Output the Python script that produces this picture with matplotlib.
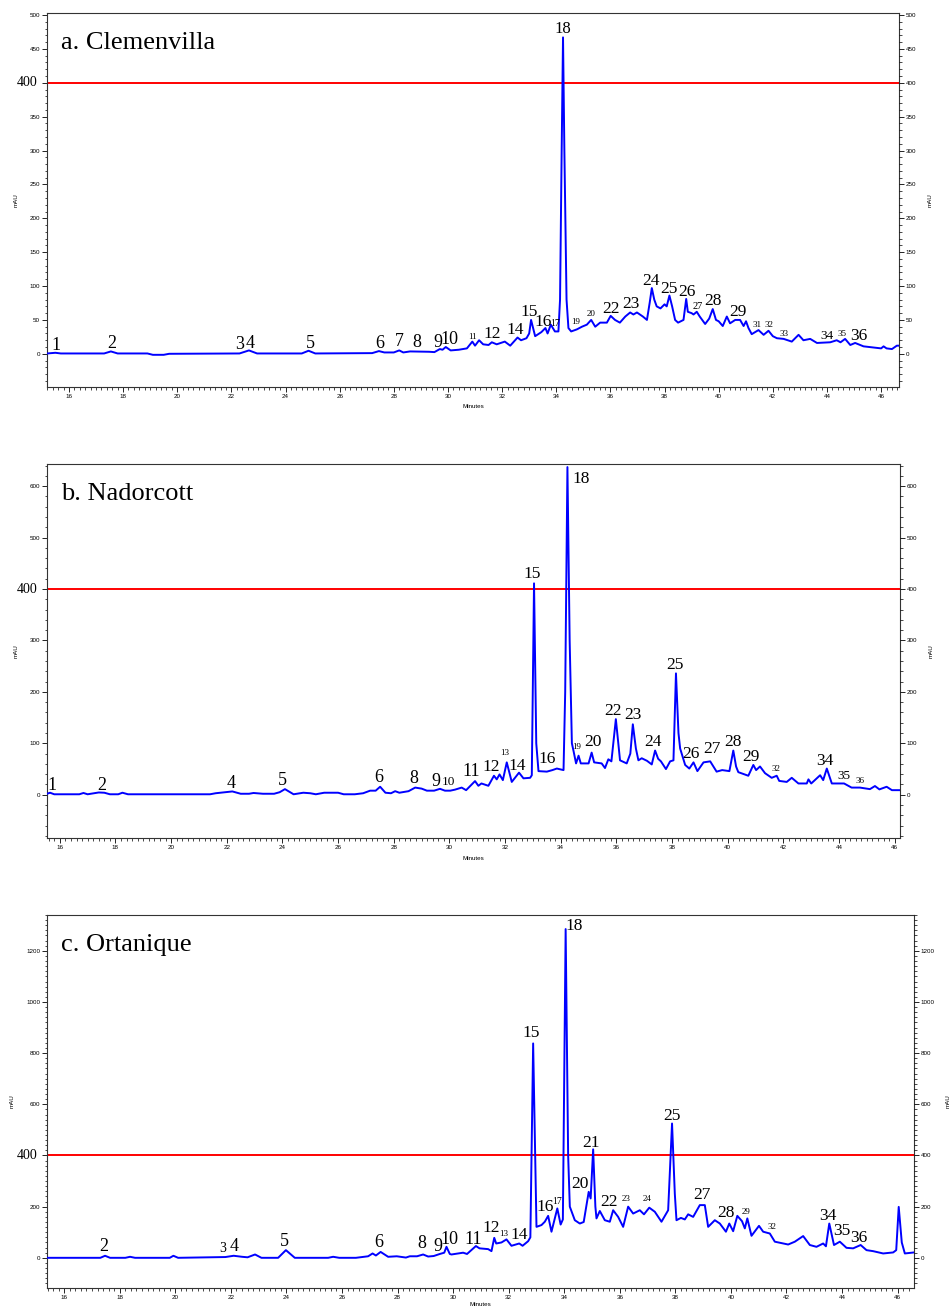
import numpy as np
import matplotlib
matplotlib.use("Agg")
import matplotlib.pyplot as plt
from matplotlib.ticker import MultipleLocator
import matplotlib.transforms as mtransforms

SERIF = "Liberation Serif"
SANS = "Liberation Sans"

# a. Clemenvilla
a_t = [15.2, 15.5, 15.7, 17.3, 17.55, 17.8, 18.9, 19.1, 19.5, 19.7, 22.3, 22.65, 22.95,
       24.6, 24.85, 25.1, 27.2, 27.45, 27.65, 28.0, 28.2, 28.35, 28.6, 29.3, 29.5, 29.7,
       29.8, 29.92, 30.1, 30.4, 30.7, 30.9, 31.0, 31.15, 31.3, 31.5, 31.62, 31.8, 32.1,
       32.3, 32.57, 32.7, 32.9, 33.0, 33.07, 33.22, 33.45, 33.6, 33.68, 33.8, 33.95, 34.08,
       34.14, 34.2, 34.25, 34.3, 34.38, 34.45, 34.55, 34.76, 34.95, 35.13, 35.29, 35.44,
       35.62, 35.87, 36.01, 36.17, 36.35, 36.55, 36.73, 36.85, 36.98, 37.2, 37.35, 37.45,
       37.53, 37.62, 37.71, 37.85, 38.0, 38.08, 38.18, 38.28, 38.39, 38.5, 38.7, 38.8,
       38.86, 39.0, 39.07, 39.19, 39.3, 39.5, 39.65, 39.78, 39.9, 40.0, 40.15, 40.3, 40.42,
       40.61, 40.79, 40.92, 41.01, 41.1, 41.22, 41.47, 41.66, 41.84, 42.0, 42.15, 42.4,
       42.7, 42.95, 43.13, 43.38, 43.63, 44.12, 44.36, 44.5, 44.67, 44.86, 45.04, 45.35,
       46.0, 46.09, 46.2, 46.4, 46.58, 46.65]
a_v = [0.5, 1.5, 0.5, 0.5, 3.5, 0.5, 0.5, -1.5, -1.5, 0, 0.5, 5, 0.5,
       0.5, 4.5, 0.5, 1, 4, 2, 2, 5, 2, 3.5, 3, 2.5, 7,
       6, 10, 5, 6, 8, 18, 12, 20, 14, 13, 17, 14, 18,
       12, 24, 20, 23, 30, 50, 26, 32, 38, 30, 43, 33, 33,
       80, 300, 467, 300, 80, 38, 33, 36, 40, 43, 50, 40,
       46, 46, 56, 50, 46, 55, 61, 58, 61, 55, 50, 75,
       97, 80, 70, 67, 73, 70, 86, 70, 50, 46, 50, 81,
       62, 60, 58, 62, 55, 44, 52, 66, 50, 48, 41, 55, 45,
       50, 50, 41, 48, 38, 29, 35, 28, 34, 26, 23, 22,
       18, 28, 20, 22, 16, 17, 20, 17, 22, 13, 16, 11,
       8, 11, 8, 7, 12, 12]
a_labels = [("1", 15.52, 12, 13), ("2", 17.58, 15.8, 13), ("3", 22.29, 14.3, 13),
            ("4", 22.69, 15.8, 13), ("5", 24.9, 15.8, 13), ("6", 27.49, 15.8, 13),
            ("7", 28.19, 18, 13), ("8", 28.84, 16.7, 13), ("9", 29.62, 16.7, 13),
            ("10", 30.04, 21.6, 13), ("11", 30.91, 24.6, 6.5), ("12", 31.64, 29, 12.5),
            ("14", 32.5, 34.4, 12.5), ("15", 33.0, 62, 12.5), ("16", 33.5, 46.5, 12.5),
            ("17", 33.97, 45, 7), ("18", 34.24, 479, 12), ("19", 34.73, 46.7, 6.5),
            ("20", 35.27, 59, 6.5), ("22", 36.01, 66, 12.5), ("23", 36.75, 73.7, 12.5),
            ("24", 37.49, 107.7, 12.5), ("25", 38.18, 96, 12.5), ("26", 38.82, 91.4, 12.5),
            ("27", 39.24, 70, 7.5), ("28", 39.8, 78, 12.5), ("29", 40.7, 61, 12.5),
            ("31", 41.4, 42.8, 6.5), ("32", 41.86, 41.8, 6.5), ("33", 42.41, 29.5, 6.5),
            ("34", 43.99, 25.6, 9.5), ("35", 44.57, 29.5, 6.5), ("36", 45.16, 26.5, 12.5)]

# b. Nadorcott
b_t = [15.54, 15.65, 15.8, 16.7, 16.85, 17.0, 17.4, 17.6, 17.8, 18.1, 18.25, 18.45, 21.4,
       21.6, 22.2, 22.5, 22.8, 22.96, 23.3, 23.7, 23.9, 24.09, 24.4, 24.75, 25.0, 25.2,
       25.5, 26.0, 26.2, 26.6, 26.9, 27.15, 27.35, 27.51, 27.7, 27.9, 28.05, 28.2, 28.53,
       28.77, 29.0, 29.19, 29.45, 29.66, 29.84, 30.03, 30.2, 30.44, 30.6, 30.92, 31.04,
       31.15, 31.4, 31.6, 31.7, 31.8, 31.92, 32.06, 32.24, 32.5, 32.66, 32.9, 32.96, 33.04,
       33.12, 33.2, 33.5, 33.7, 33.86, 34.1, 34.16, 34.24, 34.32, 34.4, 34.46, 34.55, 34.64,
       34.72, 35.0, 35.11, 35.2, 35.47, 35.59, 35.71, 35.82, 35.98, 36.13, 36.37, 36.5,
       36.59, 36.7, 36.79, 36.91, 37.1, 37.27, 37.39, 37.5, 37.6, 37.78, 37.93, 38.05,
       38.14, 38.23, 38.29, 38.47, 38.62, 38.77, 38.91, 39.13, 39.37, 39.6, 39.8, 40.06,
       40.2, 40.3, 40.38, 40.74, 40.92, 41.02, 41.16, 41.34, 41.58, 41.76, 41.85, 42.12,
       42.3, 42.54, 42.84, 42.9, 43.0, 43.32, 43.43, 43.56, 43.74, 43.98, 44.18, 44.45,
       44.75, 45.11, 45.29, 45.45, 45.71, 45.9, 46.2]
b_v = [2, 4, 1, 1, 3.5, 1, 4.5, 4, 1, 1, 4, 1, 1,
       3, 6.5, 2, 2, 3.5, 2, 2, 5, 11, 1, 4, 3, 1,
       4, 4, 1, 1, 3, 8, 8, 15.6, 4, 3, 7, 4, 7,
       14, 12, 8, 8, 11.6, 8, 8, 10, 14, 9, 26.6, 17.5,
       22, 17.5, 37, 30, 39.6, 28.5, 63, 25, 43, 32, 33, 38, 411,
       100, 46, 45, 48, 51, 48, 200, 637, 300, 100, 85, 61, 76,
       61, 61, 82, 63, 61, 52, 69, 65, 147, 67, 61, 80,
       137, 90, 67, 71, 66, 59, 86, 70, 65, 50, 65, 67,
       236, 120, 90, 58, 51, 63, 46, 63, 65, 45, 48, 46,
       86, 55, 44, 37, 58, 48, 55, 42, 33, 37, 27, 25,
       33, 22, 22, 30, 22, 38, 28.5, 51, 22, 22, 22, 14,
       14, 11, 17, 10.5, 15.6, 9, 9]
b_labels = [("1", 15.71, 18.9, 13), ("2", 17.51, 18.9, 13), ("4", 22.14, 22, 13),
            ("5", 24.01, 28.6, 13), ("6", 27.45, 33.8, 13), ("8", 28.71, 32, 13),
            ("9", 29.52, 26.6, 13), ("10", 29.96, 25.3, 9.5), ("11", 30.77, 44.7, 13),
            ("12", 31.49, 54.4, 12.5), ("13", 31.98, 81.6, 6.5), ("14", 32.42, 56.4, 12.5),
            ("15", 32.98, 430, 12.5), ("16", 33.52, 69.4, 12.5), ("18", 34.73, 613, 12.5),
            ("19", 34.58, 92, 6.5), ("20", 35.14, 101.8, 12.5), ("22", 35.89, 163, 12.5),
            ("23", 36.61, 155, 12.5), ("24", 37.33, 103, 12.5), ("25", 38.11, 253, 12.5),
            ("26", 38.69, 79, 12.5), ("27", 39.43, 88.8, 12.5), ("28", 40.17, 103, 12.5),
            ("29", 40.84, 73.9, 12.5), ("32", 41.74, 50, 6.5), ("34", 43.5, 65.5, 12.5),
            ("35", 44.18, 37, 9.5), ("36", 44.76, 26.6, 6.5)]

# c. Ortanique
c_t = [15.38, 17.3, 17.47, 17.65, 18.2, 18.37, 18.55, 19.8, 19.93, 20.1, 21.8, 22.1, 22.4,
       22.6, 22.87, 23.1, 23.7, 23.98, 24.3, 25.5, 25.68, 25.9, 26.5, 26.94, 27.1, 27.22,
       27.39, 27.66, 27.97, 28.3, 28.44, 28.7, 28.92, 29.1, 29.3, 29.52, 29.68, 29.76,
       29.88, 29.94, 30.36, 30.5, 30.82, 30.95, 31.26, 31.38, 31.48, 31.55, 31.74, 31.92,
       32.1, 32.38, 32.5, 32.7, 32.78, 32.88, 32.97, 33.0, 33.18, 33.3, 33.42, 33.54, 33.63,
       33.75, 33.87, 33.95, 34.05, 34.14, 34.2, 34.38, 34.56, 34.7, 34.82, 34.88, 34.95,
       35.04, 35.12, 35.16, 35.28, 35.46, 35.64, 35.76, 35.94, 36.12, 36.3, 36.48, 36.72,
       36.87, 37.06, 37.26, 37.5, 37.74, 37.88, 37.98, 38.04, 38.2, 38.34, 38.46, 38.64,
       38.88, 39.06, 39.18, 39.42, 39.6, 39.82, 39.94, 40.08, 40.23, 40.4, 40.5, 40.59,
       40.74, 41.01, 41.16, 41.4, 41.58, 42.06, 42.3, 42.6, 42.84, 43.08, 43.32, 43.42,
       43.54, 43.71, 43.92, 44.16, 44.4, 44.67, 44.88, 45.12, 45.48, 45.84, 45.95, 46.04,
       46.15, 46.26, 46.59]
c_v = [0, 0, 8, 0, 0, 4, 0, 0, 8, 0, 3, 8, 4,
       2, 13, 0, 0, 30, 0, 0, 4, 0, 0, 6, 17, 9,
       23, 4, 6, 1, 6, 6, 13, 5, 7, 15, 20, 43,
       15, 13, 20, 15, 46, 37, 34, 26, 78, 56, 60, 72,
       47, 56, 47, 65, 80, 838, 300, 121, 128, 141, 164, 102, 141,
       193, 130, 150, 1285, 400, 200, 147, 134, 140, 219, 258, 232,
       424, 200, 154, 183, 147, 141, 186, 160, 121, 200, 173, 186,
       170, 196, 180, 141, 186, 525, 250, 147, 156, 150, 170, 160,
       206, 206, 121, 147, 134, 102, 134, 104, 164, 143, 115, 154,
       86, 125, 102, 95, 63, 52, 63, 85, 50, 43, 56, 45,
       134, 50, 63, 39, 37, 50, 30, 26, 17, 21, 30, 199,
       60, 17, 21]
c_labels = [("2", 17.44, 43, 13), ("3", 21.7, 37, 10), ("4", 22.12, 46, 13),
            ("5", 23.92, 63, 13), ("6", 27.33, 59, 13), ("8", 28.89, 56, 13),
            ("9", 29.44, 46, 13), ("10", 29.88, 72, 13), ("11", 30.72, 72, 13),
            ("12", 31.36, 117, 12.5), ("13", 31.83, 95, 6.5), ("14", 32.37, 91, 12.5),
            ("15", 32.82, 880, 12.5), ("16", 33.3, 199, 12.5), ("17", 33.75, 219, 7),
            ("18", 34.35, 1298, 12.5), ("20", 34.56, 288, 12.5), ("21", 34.98, 447, 12.5),
            ("22", 35.61, 219, 12.5), ("23", 36.24, 229, 6.5), ("24", 36.99, 229, 6.5),
            ("25", 37.86, 554, 12.5), ("27", 38.94, 245, 12.5), ("28", 39.81, 176, 12.5),
            ("29", 40.56, 180, 6.5), ("32", 41.46, 121, 6.5), ("34", 43.5, 164, 12.5),
            ("35", 43.98, 104, 12.5), ("36", 44.62, 78, 12.5)]

panels = [
    dict(t=a_t, v=a_v, labels=a_labels, title="a. Clemenvilla",
         rect=[47 / 949, 1 - 387 / 1306, 852 / 949, 374 / 1306],
         xlim=(15.19, 46.66), ylim=(-49, 503), major=50, minor=10, ymax=500, xpad=4),
    dict(t=b_t, v=b_v, labels=b_labels, title="b. Nadorcott",
         rect=[47 / 949, 1 - 838 / 1306, 853 / 949, 374 / 1306],
         xlim=(15.54, 46.19), ylim=(-84, 643), major=100, minor=20, ymax=600, xpad=4),
    dict(t=c_t, v=c_v, labels=c_labels, title="c. Ortanique",
         rect=[47 / 949, 1 - 1288 / 1306, 867 / 949, 373 / 1306],
         xlim=(15.38, 46.59), ylim=(-118, 1340), major=200, minor=20, ymax=1200, xpad=1.5),
]

fig = plt.figure(figsize=(9.49, 13.06), dpi=100)

for p in panels:
    ax = fig.add_axes(p["rect"])
    ax.plot(p["t"], p["v"], color="#0000ff", lw=1.4, zorder=3)
    ax.axhline(400, color="#ff0000", lw=1.4, zorder=2)
    ax.set_xlim(*p["xlim"])
    ax.set_ylim(*p["ylim"])

    # ticks
    ax.xaxis.set_major_locator(MultipleLocator(2))
    ax.xaxis.set_minor_locator(MultipleLocator(0.2))
    yt = np.arange(0, p["ymax"] + 1, p["major"])
    ax.set_yticks(yt)
    ax.set_yticklabels(["" if y == 400 else str(int(y)) for y in yt])
    ax.yaxis.set_minor_locator(MultipleLocator(p["minor"]))
    ax.tick_params(which="major", direction="out", length=3.5, width=0.6, labelsize=4.5, pad=1.5)
    ax.tick_params(which="minor", direction="out", length=1.8, width=0.5)
    for lab in ax.get_xticklabels() + ax.get_yticklabels():
        lab.set_family(SANS)
    for s in ax.spines.values():
        s.set_linewidth(0.8)
        s.set_color("#333333")

    ax2 = ax.twinx()
    ax2.set_ylim(*p["ylim"])
    ax2.set_yticks(yt)
    ax2.set_yticklabels([str(int(y)) for y in yt])
    ax2.yaxis.set_minor_locator(MultipleLocator(p["minor"]))
    ax2.tick_params(which="major", direction="out", length=3.5, width=0.6, labelsize=4.5, pad=1.5)
    ax2.tick_params(which="minor", direction="out", length=1.8, width=0.5)
    for lab in ax2.get_yticklabels():
        lab.set_family(SANS)
    for s in ax2.spines.values():
        s.set_visible(False)

    ax.set_ylabel("mAU", fontsize=4.5, family=SANS, labelpad=8)
    ax2.set_ylabel("mAU", fontsize=4.5, family=SANS, labelpad=8)
    ax.set_xlabel("Minutes", fontsize=4.5, family=SANS, labelpad=p["xpad"])

    # big 400 marker on the left
    trans = mtransforms.blended_transform_factory(ax.transAxes, ax.transData)
    ax.text(-0.011, 400, "400", transform=trans, ha="right", va="center",
            fontsize=10, family=SERIF)

    ax.text(0.0165, 0.92, p["title"], transform=ax.transAxes, ha="left", va="center",
            fontsize=19, family=SERIF)

    for txt, tx, ty, fs in p["labels"]:
        ax.text(tx, ty, txt, ha="center", va="center", fontsize=fs, family=SERIF, zorder=4)

fig.savefig("out.png", dpi=100)
